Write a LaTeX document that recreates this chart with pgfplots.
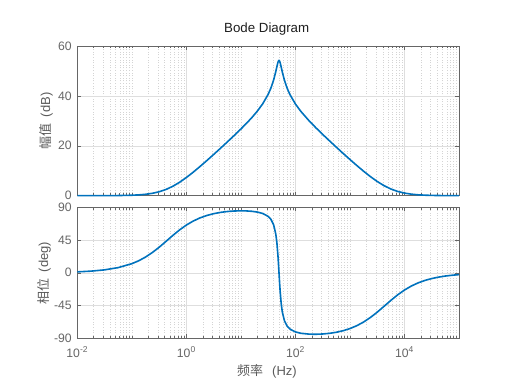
\documentclass[border=0pt]{standalone}
\usepackage{pgfplots}
\pgfplotsset{compat=1.18}
\usepackage{fontspec}
\setmainfont{Liberation Sans}
\newfontfamily\cjk{Noto Sans CJK SC}
\definecolor{mblue}{RGB}{0,114,189}
\definecolor{axgray}{RGB}{102,102,102}
\definecolor{labgray}{RGB}{90,90,90}
\definecolor{gridmaj}{RGB}{222,222,222}
\definecolor{gridmin}{RGB}{212,212,212}

\pgfplotsset{
 bodeax/.style={
  scale only axis, width=381.7pt,
  xmin=0.01, xmax=1e5,
  xtick={0.01,1,100,10000},
  minor xtick={0.02,0.03,0.04,0.05,0.06,0.07,0.08,0.09,0.1,0.2,0.3,0.4,0.5,0.6,0.7,0.8,0.9,2,3,4,5,6,7,8,9,10,20,30,40,50,60,70,80,90,200,300,400,500,600,700,800,900,1000,2000,3000,4000,5000,6000,7000,8000,9000,20000,30000,40000,50000,60000,70000,80000,90000},
  grid=both,
  major grid style={draw=gridmaj, line width=0.5pt},
  minor grid style={draw=gridmin, line width=0.45pt, dash pattern=on 0.8pt off 1.8pt},
  axis line style={draw=axgray, line width=0.6pt},
  tick style={draw=axgray, line width=0.5pt},
  major tick length=4pt, minor tick length=2.5pt,
  tick align=inside,
  ticklabel style={font=\fontsize{12.2}{14}\selectfont, text=axgray},
  yticklabel style={xshift=-2pt},
  clip=false,
 }
}

\begin{document}
\begin{tikzpicture}
\path (0,0) rectangle (507pt,381pt);

\begin{semilogxaxis}[bodeax, at={(77.3pt,185.3pt)}, anchor=south west, height=149.7pt,
  ymin=0, ymax=60, ytick={0,20,40,60}, yticklabels={0,20,40,60}, xticklabels={}]
\addplot[mblue, line width=1.6pt] coordinates {
(0.01,0.002) (0.017783,0.006) (0.031623,0.019) (0.056234,0.059) (0.1,0.185) (0.13335,0.323) (0.17783,0.559) (0.23714,0.948) (0.31623,1.566) (0.4217,2.484) (0.56234,3.752) (0.74989,5.367) (1,7.279) (1.33352,9.410) (1.7783,11.692) (2.3714,14.069) (3.1623,16.508) (4.217,18.992) (5.6234,21.515) (7.4989,24.086) (10,26.732) (12.589,28.937) (15.849,31.277) (19.953,33.844) (25.119,36.823) (31.623,40.619) (35.481,43.108) (39.811,46.332) (43.652,49.731) (45.709,51.689) (47.863,53.463) (48.978,54.024) (50.119,54.198) (51.286,53.937) (52.481,53.310) (54.954,51.486) (57.544,49.535) (63.096,46.178) (70.795,42.993) (79.433,40.527) (100,36.756) (125.89,33.788) (177.83,30.038) (237.14,27.229) (316.23,24.565) (421.70,21.982) (562.34,19.451) (749.89,16.960) (1000,14.512) (1333.5,12.12) (1778.3,9.819) (2371.4,7.656) (3162.3,5.699) (4217,4.025) (5623.4,2.691) (7498.9,1.710) (10000,1.043) (13335,0.617) (17783,0.357) (23714,0.206) (31623,0.117) (42170,0.067) (56234,0.038) (74989,0.02) (100000,0.013)
};
\end{semilogxaxis}

\begin{semilogxaxis}[bodeax, at={(77.3pt,42.7pt)}, anchor=south west, height=131pt,
  ymin=-90, ymax=90, ytick={-90,-45,0,45,90}, yticklabels={-90,-45,0,45,90},
  xticklabels={10\textsuperscript{-2},10\textsuperscript{0},10\textsuperscript{2},10\textsuperscript{4}},
  xticklabel style={yshift=-5pt}]
\addplot[mblue, line width=1.6pt] coordinates {
(0.01,1.27) (0.017783,2.26) (0.031623,4.01) (0.056234,7.11) (0.1,12.51) (0.13335,16.48) (0.17783,21.53) (0.23714,27.74) (0.31623,35.02) (0.4217,43.04) (0.56234,51.20) (0.74989,58.86) (1,65.55) (1.33352,71.06) (1.7783,75.41) (2.3714,78.74) (3.1623,81.20) (4.217,82.98) (5.6234,84.17) (7.4989,84.88) (10,85.13) (12.589,84.99) (15.849,84.49) (19.953,83.46) (25.119,81.53) (31.623,77.51) (35.481,73.55) (39.811,66.04) (43.652,53.27) (45.709,41.53) (47.863,23.36) (48.978,11.61) (50.119,-1.20) (51.286,-13.88) (52.481,-25.31) (54.954,-42.72) (57.544,-53.93) (63.096,-66.20) (70.795,-73.47) (79.433,-77.34) (100,-81.25) (125.89,-83.10) (177.83,-84.28) (237.14,-84.46) (316.23,-84.08) (421.70,-83.19) (562.34,-81.72) (749.89,-79.58) (1000,-76.64) (1333.5,-72.72) (1778.3,-67.68) (2371.4,-61.44) (3162.3,-54.12) (4217,-46.08) (5623.4,-37.95) (7498.9,-30.33) (10000,-23.69) (13335,-18.22) (17783,-13.87) (23714,-10.49) (31623,-7.90) (42170,-5.95) (56234,-4.46) (74989,-3.35) (100000,-2.51)
};
\end{semilogxaxis}

\node[font=\fontsize{13.3}{15}\selectfont, text={rgb,255:red,30;green,30;blue,30}] at (266.7pt,351.5pt) {Bode Diagram};
\node[rotate=90, font=\fontsize{13}{15}\selectfont, text=labgray] at (46pt,260.2pt) {{\cjk 幅值}\hspace{6pt}(dB)};
\node[rotate=90, font=\fontsize{13}{15}\selectfont, text=labgray] at (44pt,108pt) {{\cjk 相位}\hspace{6pt}(deg)};
\node[font=\fontsize{13}{15}\selectfont, text=labgray] at (267pt,10pt) {{\cjk 频率}\hspace{9pt}(Hz)};
\end{tikzpicture}
\end{document}
